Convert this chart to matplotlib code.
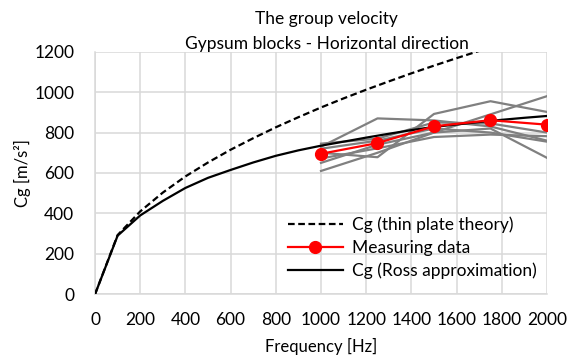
import matplotlib
matplotlib.use("Agg")
import matplotlib.pyplot as plt

plt.rcParams['font.family'] = ['Lato', 'DejaVu Sans']

# theory curves, every 100 Hz
freq = [0, 100, 200, 300, 400, 500, 600, 700, 800, 900, 1000,
        1100, 1200, 1300, 1400, 1500, 1600, 1700, 1800, 1900, 2000]
cg_thin = [0, 293, 410, 503, 583, 652, 715, 772, 826, 876, 924,
           969, 1012, 1053, 1093, 1131, 1168, 1204, 1239, 1273, 1306]
cg_ross = [0, 290, 390, 462, 526, 576, 615, 652, 685, 712, 735,
           755, 775, 794, 812, 828, 840, 852, 863, 873, 882]

# measurements
meas_freq = [1000, 1250, 1500, 1750, 2000]
meas_mean = [695, 748, 831, 861, 839]
meas_runs = [
    [730, 870, 860, 830, 760],
    [700, 678, 892, 955, 902],
    [610, 700, 800, 890, 980],
    [650, 740, 800, 820, 675],
    [672, 722, 778, 790, 782],
    [720, 760, 820, 800, 755],
    [745, 770, 850, 845, 800],
]

fig = plt.figure(figsize=(5.7, 3.63), dpi=100)
ax = fig.add_axes([0.1667, 0.1893, 0.7929, 0.6683])

for run in meas_runs:
    ax.plot(meas_freq, run, color='#808080', lw=1.6, zorder=2)

ax.plot(freq, cg_thin, color='black', lw=1.6, ls=(0, (3, 1.6)), zorder=3,
        label='Cg (thin plate theory)')
ax.plot(meas_freq, meas_mean, color='#ff0000', lw=1.6, marker='o', ms=8.5,
        zorder=4, label='Measuring data')
ax.plot(freq, cg_ross, color='black', lw=1.6, zorder=3,
        label='Cg (Ross approximation)')

ax.set_xlim(0, 2000)
ax.set_ylim(0, 1200)
ax.set_xticks(range(0, 2001, 200))
ax.set_yticks(range(0, 1201, 200))
ax.grid(True, color='#d9d9d9', lw=1.1)
ax.set_axisbelow(True)
for s in ['top', 'right']:
    ax.spines[s].set_visible(False)
for s in ['left', 'bottom']:
    ax.spines[s].set_color('#d9d9d9')
    ax.spines[s].set_linewidth(1.1)
ax.tick_params(length=0, labelsize=12.5, labelcolor='black')
ax.tick_params(axis='y', pad=15)
ax.tick_params(axis='x', pad=13)

ax.set_xlabel('Frequency [Hz]', fontsize=12, labelpad=7)
ax.set_ylabel('Cg [m/s²]', fontsize=12, labelpad=2)

fig.text(0.573, 0.948, 'The group velocity', ha='center', va='center', fontsize=12.5)
fig.text(0.573, 0.880, 'Gypsum blocks - Horizontal direction', ha='center',
         va='center', fontsize=12.5)

ax.legend(loc='lower right', bbox_to_anchor=(1.0, 0.02), frameon=False,
          fontsize=12.5, handlelength=3.2, handletextpad=0.5,
          labelspacing=0.38, borderaxespad=0.2)

fig.savefig('out.png', dpi=100)
